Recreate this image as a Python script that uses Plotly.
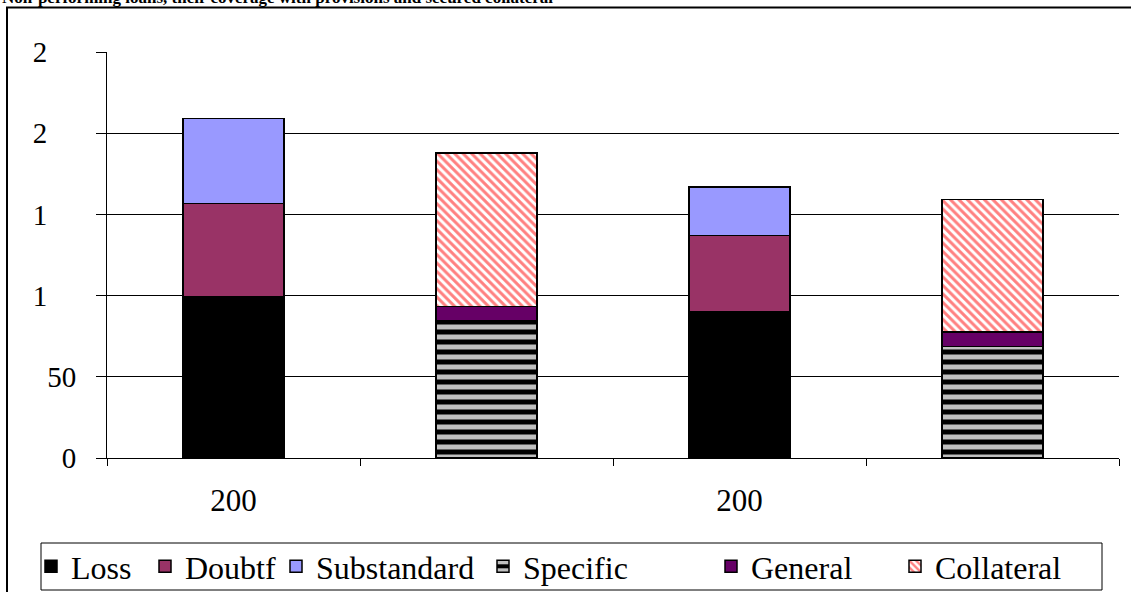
import plotly.graph_objects as go

# Chart data ---------------------------------------------------------------
categories = ["NPL 1", "Coverage 1", "NPL 2", "Coverage 2"]
x_tick_labels = ["200", "", "200", ""]

# Non-performing loans by class
loss = [99.0, None, 90.3, None]
doubtful = [57.6, None, 46.7, None]
substandard = [52.4, None, 30.0, None]

# Coverage: provisions and collateral
specific = [None, 84.6, None, 68.7]
general = [None, 8.8, None, 9.0]
collateral = [None, 94.3, None, 81.6]

y_tick_values = [0, 50, 100, 150, 200, 250]
y_tick_labels = ["0", "50", "1", "1", "2", "2"]

TITLE = "Non-performing loans, their coverage with provisions and secured collateral"

# Layout geometry (page pixels) ---------------------------------------------
W, H = 1131, 592
PL, PR, PT, PB = 107, 12, 52, 134
plot_w = W - PL - PR
plot_h = H - PT - PB


def px_x(p):
    return (p - PL) / plot_w


def px_y(p):
    return (H - PB - p) / plot_h


FONT = "Liberation Serif"
FIG_SPACE = "\u2007"

# Labels truncated to their leading digit keep the width of the full number
y_text = [lbl + FIG_SPACE * (len(str(v)) - len(lbl)) for v, lbl in zip(y_tick_values, y_tick_labels)]

series = [
    ("Loss", loss, dict(color="#000000")),
    ("Doubtf", doubtful, dict(color="#993366")),
    ("Substandard", substandard, dict(color="#9999FF")),
    ("Specific", specific, dict(color="#000000",
                                pattern=dict(shape="-", fgcolor="#C0C0C0", bgcolor="#000000",
                                             size=10, solidity=0.5, fillmode="replace"))),
    ("General", general, dict(color="#660066")),
    ("Collateral", collateral, dict(color="#FFFFFF",
                                    pattern=dict(shape="\\", fgcolor="#FF8080", bgcolor="#FFFFFF",
                                                 size=6, solidity=0.5, fillmode="replace"))),
]

legend_text_px = [71, 185, 316, 523, 751, 935]

fig = go.Figure()
for i, (name, vals, mk) in enumerate(series):
    mk = dict(mk)
    mk["line"] = dict(color="#000000", width=1.5)
    fig.add_trace(go.Bar(
        x=categories, y=vals, name=name, width=0.4, marker=mk, showlegend=True,
        legend="legend" if i == 0 else f"legend{i + 1}",
    ))

legend_y = px_y(566.5)
legend_layout = {}
for i, tx in enumerate(legend_text_px):
    key = "legend" if i == 0 else f"legend{i + 1}"
    legend_layout[key] = dict(
        x=px_x(tx - 40), y=legend_y, xanchor="left", yanchor="middle",
        orientation="h", bgcolor="rgba(0,0,0,0)", borderwidth=0,
        font=dict(family=FONT, size=32, color="#000000"),
    )

fig.update_layout(
    width=W, height=H,
    margin=dict(l=PL, r=PR, t=PT, b=PB, autoexpand=False),
    paper_bgcolor="#FFFFFF", plot_bgcolor="#FFFFFF",
    barmode="stack", bargap=0.6, showlegend=True,
    font=dict(family=FONT, color="#000000"),
    **legend_layout,
)

fig.update_xaxes(
    type="category", categoryorder="array", categoryarray=categories,
    tickmode="array", tickvals=categories, ticktext=x_tick_labels,
    tickson="boundaries", ticks="outside", ticklen=7, tickcolor="#000000", tickwidth=1,
    showline=True, linecolor="#000000", linewidth=1, showgrid=False,
    tickfont=dict(family=FONT, size=31, color="#000000"), ticklabelstandoff=15,
    range=[-0.5, 3.5],
)
fig.update_yaxes(
    range=[0, 250], tickmode="array", tickvals=y_tick_values, ticktext=y_text,
    ticks="outside", ticklen=10, tickcolor="#000000", tickwidth=1,
    showline=True, linecolor="#000000", linewidth=1,
    showgrid=True, gridcolor="#000000", gridwidth=1, zeroline=False,
    tickfont=dict(family=FONT, size=29, color="#000000"), ticklabelstandoff=14,
)

# Outer chart frame and legend box
fig.add_shape(type="rect", xref="paper", yref="paper",
              x0=px_x(7), x1=px_x(W + 20), y0=px_y(H + 20), y1=px_y(7.5),
              line=dict(color="#000000", width=2), fillcolor="rgba(0,0,0,0)", layer="below")
fig.add_shape(type="rect", xref="paper", yref="paper",
              x0=px_x(41), x1=px_x(1102), y0=px_y(590), y1=px_y(543),
              line=dict(color="#000000", width=1), fillcolor="rgba(0,0,0,0)")

fig.add_annotation(
    text=f"<b>{TITLE}</b>", xref="paper", yref="paper",
    x=px_x(0), y=px_y(9), xanchor="left", yanchor="bottom", showarrow=False,
    font=dict(family=FONT, size=17, color="#000000"),
)

fig.write_html("out.html")
